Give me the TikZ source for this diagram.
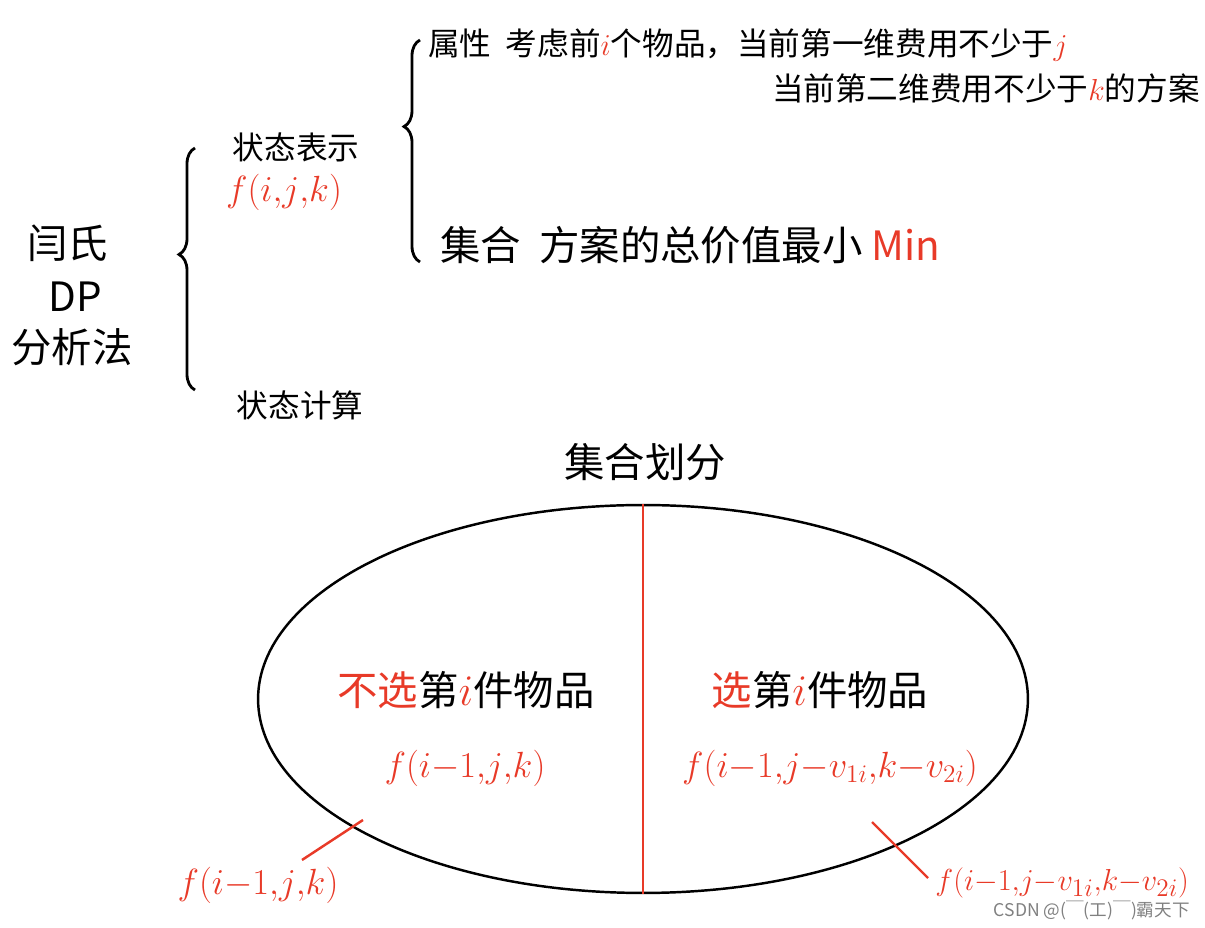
\documentclass[tikz,border=0pt]{standalone}
\usepackage{fontspec}
\setmainfont{Noto Sans CJK SC}
\usetikzlibrary{positioning, shapes.geometric, decorations.pathreplacing}
\definecolor{penred}{RGB}{232,58,40}

\begin{document}
\begin{tikzpicture}[x=0.02cm,y=-0.02cm,
        hand/.style={inner sep=0pt,font=\fontsize{18}{22}\selectfont},
        big hand/.style={inner sep=0pt,font=\fontsize{23}{27}\selectfont},
        red hand/.style={hand,text=penred},
        red math/.style={red hand,font=\fontsize{21}{25}\selectfont},
        bracket/.style={draw,line width=1.6pt,decorate,decoration={brace,amplitude=0.32cm}},
        cut/.style={draw=penred,line width=1.4pt}]
        \useasboundingbox (0,0) rectangle (1205,928);

        % left title
        \node[big hand] (yan) at (68,243) {闫氏};
        \node[big hand] (dp) at (75,297) {DP};
        \node[big hand] (fxf) at (72,347) {分析法};

        % state representation / computation
        \node[hand] (repr) at (296,147) {状态表示};
        \node[red math,font=\fontsize{22}{26}\selectfont] (frepr) at (284,192) {$f(i{,}j{,}k)$};
        \node[hand] (calc) at (300,405) {状态计算};
        \coordinate (b1s) at (195,390);
        \coordinate (b1e) at (195,148);
        \draw[bracket,decoration={aspect=0.56}] (b1s) -- (b1e);

        % attribute / set
        \node[hand,anchor=west] (attr) at (428,45) {属性\ \ 考虑前{\color{penred}$i$}个物品，当前第一维费用不少于{\color{penred}$j$}};
        \node[hand,anchor=east] (attr2) at (1200,88) {当前第二维费用不少于{\color{penred}$k$}的方案};
        \node[big hand,anchor=west] (coll) at (440,245) {集合\ \ 方案的总价值最小\ {\color{penred}Min}};
        \coordinate (b2s) at (420,262);
        \coordinate (b2e) at (420,40);
        \draw[bracket,decoration={aspect=0.61}] (b2s) -- (b2e);

        % set partition
        \node[big hand] (part) at (645,462) {集合划分};
        \node[draw,ellipse,line width=1.4pt,minimum width=15.4cm,minimum height=7.76cm] (set) at (643,699) {};
        \draw[cut] (set.north) -- (set.south);

        \node[big hand] (nosel) at (466,690) {{\color{penred}不选}第{\color{penred}$i$}件物品};
        \node[red math] (fno) at (465,768) {$f(i{-}1{,}j{,}k)$};
        \node[big hand] (sel) at (820,690) {{\color{penred}选}第{\color{penred}$i$}件物品};
        \node[red math] (fyes) at (830,768) {$f(i{-}1{,}j{-}v_{1i}{,}k{-}v_{2i})$};

        % outside labels
        \node[red math] (fnoout) at (258,885) {$f(i{-}1{,}j{,}k)$};
        \node[red math,font=\fontsize{19}{23}\selectfont,anchor=west] (fyesout) at (935,883) {$f(i{-}1{,}j{-}v_{1i}{,}k{-}v_{2i})$};
        \coordinate (cl1) at (363,820);
        \coordinate (cl2) at (302,860);
        \coordinate (cr1) at (872,822);
        \coordinate (cr2) at (928,878);
        \path[cut]
        (cl1) edge (cl2)
        (cr1) edge (cr2);

        \node[inner sep=0pt,anchor=east,text=gray,font=\fontsize{10}{12}\selectfont] (mark) at (1190,910) {CSDN @(￣(工)￣)霸天下};
    \end{tikzpicture}
\end{document}
